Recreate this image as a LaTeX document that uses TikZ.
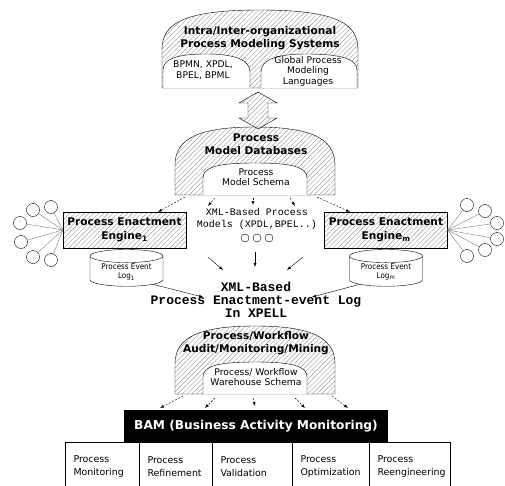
\documentclass[tikz,border=0pt]{standalone}
\usepackage{fontspec}
\setmainfont{DejaVu Sans}
\newfontfamily\condfont{DejaVu Sans Condensed}
\newfontfamily\courfont{Liberation Mono}
\usetikzlibrary{patterns.meta,shapes.geometric}

\begin{document}
\begin{tikzpicture}[x=1pt,y=1pt,
  hatch/.style={draw,pattern={Lines[angle=45,distance=3.4pt,line width=0.45pt]},pattern color=gray!75},
  window/.style={draw,fill=white},
  title node/.style={font=\fontsize{10.6}{13}\selectfont\bfseries,align=center},
  inner node/.style={font=\fontsize{9.2}{10.5}\selectfont,align=center},
  engine node/.style={hatch,minimum width=123,minimum height=36,
    font=\fontsize{10.6}{14}\selectfont\bfseries,align=center},
  log node/.style={draw,fill=white,cylinder,shape border rotate=90,aspect=0.25,minimum width=73,minimum height=35,
    inner sep=1pt,font=\condfont\fontsize{8}{9}\selectfont,align=center},
  peer node/.style={circle,draw,minimum size=13,inner sep=0pt},
  dot node/.style={circle,draw,minimum size=8,inner sep=0pt},
  act node/.style={draw,line width=1pt,anchor=north west,minimum height=48,inner xsep=8,
    font=\fontsize{9.4}{13}\selectfont,align=left},
  dash arrow/.style={dash pattern=on 2pt off 1.5pt,-latex,thin},
  solid arrow/.style={-latex,thin}]

  \useasboundingbox (0,0) rectangle (505,-485);

  % modeling systems
  \draw[hatch] (162,-88) -- (162,-50) .. controls (162,-25) and (180,-10) .. (260,-10)
    .. controls (340,-10) and (358,-25) .. (358,-50) -- (358,-88) -- cycle;
  \draw[window] (163,-88) -- (163,-70) .. controls (163,-58) and (180,-54) .. (206,-54)
    .. controls (235,-54) and (250,-60) .. (250,-72) -- (250,-88);
  \draw[window] (261,-88) -- (261,-72) .. controls (261,-60) and (276,-54) .. (306,-54)
    .. controls (338,-54) and (357,-58) .. (357,-70) -- (357,-88);
  \node[title node] (pms) at (260,-38) {Intra/Inter-organizational\\Process Modeling Systems};
  \node[inner node] (bpmn) at (203,-70) {BPMN, XPDL,\\BPEL, BPML};
  \node[inner node] (gpml) at (308,-71) {Global Process\\Modeling\\Languages};

  \draw[hatch] (258,-92) -- (277,-103) -- (268,-103) -- (268,-118) -- (277,-118) -- (258,-129)
    -- (239,-118) -- (248,-118) -- (248,-103) -- (239,-103) -- cycle;

  % model databases
  \draw[hatch] (175,-195) -- (175,-165) .. controls (175,-138) and (200,-127) .. (255,-127)
    .. controls (310,-127) and (335,-138) .. (335,-165) -- (335,-195) -- cycle;
  \draw[window] (203,-195) -- (203,-178) .. controls (203,-167) and (218,-163) .. (255,-163)
    .. controls (292,-163) and (307,-167) .. (307,-178) -- (307,-195);
  \node[title node] (pmd) at (256,-144) {Process\\Model Databases};
  \node[inner node] (pms2) at (256,-177) {Process\\Model Schema};

  % engines
  \node[engine node] (leng) at (124.5,-230) {Process Enactment\\Engine\textsubscript{1}};
  \node[engine node] (reng) at (386,-230) {Process Enactment\\Engine\textsubscript{m}};
  \node[log node] (llog) at (126.5,-272) {Process Event\\Log\textsubscript{1}};
  \node[log node] (rlog) at (386,-272) {Process Event\\Log\textsubscript{m}};
  \draw (leng.south -| llog.north) -- (llog.north);
  \draw (reng.south -| rlog.north) -- (rlog.north);

  \node[peer node] (l1) at (33,-210) {};
  \node[peer node] (l2) at (51,-207) {};
  \node[peer node] (l3) at (20,-223) {};
  \node[peer node] (l4) at (21,-242) {};
  \node[peer node] (l5) at (33,-257) {};
  \node[peer node] (l6) at (51,-260) {};
  \node[peer node] (r1) at (467,-205) {};
  \node[peer node] (r2) at (485,-211) {};
  \node[peer node] (r3) at (497,-223) {};
  \node[peer node] (r4) at (497,-239) {};
  \node[peer node] (r5) at (485,-250) {};
  \node[peer node] (r6) at (467,-256) {};

  \path[draw=gray]
   (l1) edge (leng.west)
   (l2) edge (leng.west)
   (l3) edge (leng.west)
   (l4) edge (leng.west)
   (l5) edge (leng.west)
   (l6) edge (leng.west)
   (r1) edge (reng.east)
   (r2) edge (reng.east)
   (r3) edge (reng.east)
   (r4) edge (reng.east)
   (r5) edge (reng.east)
   (r6) edge (reng.east);

  % process models
  \node[font=\courfont\fontsize{10}{12}\selectfont,align=center] (xmlm) at (257,-219)
    {XML-Based Process\\Models (XPDL,BPEL..)};
  \node[dot node] (o1) at (245,-238) {};
  \node[dot node] (o2) at (257,-238) {};
  \node[dot node] (o3) at (269,-238) {};

  \coordinate (d1) at (185,-197);
  \coordinate (d2) at (215,-198);
  \coordinate (d3) at (253,-198);
  \coordinate (d4) at (290,-198);
  \coordinate (d5) at (317,-197);
  \coordinate (e1) at (158,-212);
  \coordinate (e2) at (208,-206);
  \coordinate (e3) at (253,-205);
  \coordinate (e4) at (295,-206);
  \coordinate (e5) at (350,-212);
  \path[dash arrow]
   (d1) edge (e1)
   (d2) edge (e2)
   (d3) edge (e3)
   (d4) edge (e4)
   (d5) edge (e5);

  % event log
  \node[font=\courfont\fontsize{13}{13}\selectfont\bfseries,align=center] (xpell) at (256,-300)
    {XML-Based\\Process Enactment-event Log\\In XPELL};
  \coordinate (m1) at (208,-257);
  \coordinate (m2) at (255,-252);
  \coordinate (m3) at (303,-257);
  \coordinate (n1) at (223,-270);
  \coordinate (n2) at (255,-267);
  \coordinate (n3) at (287,-270);
  \coordinate (n4) at (203,-297);
  \coordinate (n5) at (312,-297);
  \path[solid arrow]
   (m1) edge (n1)
   (m2) edge (n2)
   (m3) edge (n3)
   (llog.-25) edge (n4)
   (rlog.205) edge (n5);

  % audit / monitoring / mining
  \draw[hatch] (175,-394) -- (175,-364) .. controls (175,-337) and (200,-326) .. (255,-326)
    .. controls (310,-326) and (335,-337) .. (335,-364) -- (335,-394) -- cycle;
  \draw[window] (203,-394) -- (203,-377) .. controls (203,-366) and (218,-362) .. (255,-362)
    .. controls (292,-362) and (307,-366) .. (307,-377) -- (307,-394);
  \node[title node] (pam) at (256,-343) {Process/Workflow\\Audit/Monitoring/Mining};
  \node[inner node] (pws) at (256,-377) {Process/ Workflow\\Warehouse Schema};

  % BAM
  \node[fill=black,text=white,minimum width=264,minimum height=32,
    font=\fontsize{12.2}{14}\selectfont\bfseries] (bam) at (256,-426) {BAM (Business Activity Monitoring)};

  \coordinate (f1) at (183,-396);
  \coordinate (f2) at (215,-398);
  \coordinate (f3) at (253,-398);
  \coordinate (f4) at (295,-398);
  \coordinate (f5) at (332,-396);
  \coordinate (g1) at (160,-408);
  \coordinate (g2) at (205,-408);
  \coordinate (g3) at (255,-406);
  \coordinate (g4) at (305,-408);
  \coordinate (g5) at (348,-408);
  \path[dash arrow]
   (f1) edge (g1)
   (f2) edge (g2)
   (f3) edge (g3)
   (f4) edge (g4)
   (f5) edge (g5);

  \node[act node,text width=58] (pmon) at (65,-442) {Process\\Monitoring};
  \node[act node,text width=57] (pref) at (139,-442) {Process\\Refinement};
  \node[act node,text width=64] (pval) at (212,-442) {Process\\Validation};
  \node[act node,text width=61] (popt) at (292,-442) {Process\\Optimization};
  \node[act node,text width=65] (pree) at (369,-442) {Process\\Reengineering};
\end{tikzpicture}
\end{document}
